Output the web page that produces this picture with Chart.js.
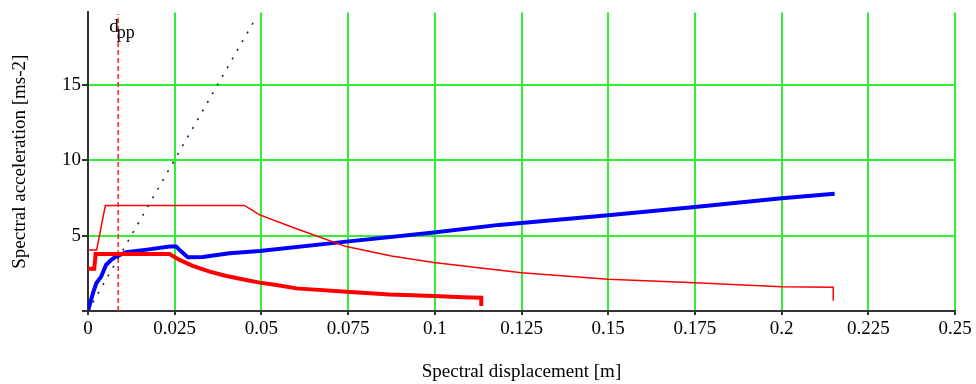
<!DOCTYPE html>
<html>
<head>
<meta charset="utf-8">
<script src="https://cdn.jsdelivr.net/npm/chart.js@4"></script>
<style>
    body { margin: 0; background: #fff; }
    #wrap { width: 976px; height: 384px; }
</style>
</head>
<body>
<div id="wrap"><canvas id="graph" width="976" height="384"></canvas></div>
<script>
// tick positions / labels
const xTicks = [0, 0.025, 0.05, 0.075, 0.1, 0.125, 0.15, 0.175, 0.2, 0.225, 0.25];
const xTickLabels = ['0', '0.025', '0.05', '0.075', '0.1', '0.125', '0.15', '0.175', '0.2', '0.225', '0.25'];
const yTicks = [0, 5, 10, 15];
const yTickLabels = ['', '5', '10', '15'];

// capacity curve (blue)
const capX = [0, 0.0014, 0.0024, 0.0038, 0.0052, 0.0067, 0.0081, 0.011, 0.017, 0.0235, 0.0254, 0.0269, 0.0288, 0.0331, 0.0408, 0.0495, 0.0745, 0.0997, 0.1185, 0.15, 0.175, 0.2, 0.2153];
const capY = [0, 1.17, 1.84, 2.28, 3.05, 3.39, 3.61, 3.9, 4.07, 4.27, 4.27, 3.94, 3.56, 3.58, 3.83, 3.98, 4.6, 5.2, 5.71, 6.35, 6.9, 7.48, 7.77];

// elastic demand spectrum (thin red)
const elasX = [0, 0.0025, 0.005, 0.0451, 0.0495, 0.0601, 0.0745, 0.0875, 0.0997, 0.125, 0.15, 0.175, 0.2, 0.2149, 0.2149];
const elasY = [4.05, 4.05, 7.0, 7.0, 6.37, 5.45, 4.27, 3.65, 3.21, 2.54, 2.1, 1.88, 1.61, 1.57, 0.68];

// inelastic demand spectrum (thick red)
const inelX = [0, 0.0018, 0.0022, 0.0235, 0.0264, 0.0302, 0.0351, 0.0399, 0.0456, 0.0495, 0.0543, 0.0601, 0.0745, 0.087, 0.0997, 0.1081, 0.1134, 0.1134];
const inelY = [2.8, 2.8, 3.78, 3.78, 3.39, 2.99, 2.61, 2.32, 2.06, 1.88, 1.73, 1.5, 1.28, 1.1, 0.99, 0.91, 0.88, 0.33];

// initial stiffness (dotted) and d_pp marker
const stiffX = [0, 0.0487];
const stiffY = [0, 19.55];
const dppX = [0.0087, 0.0087];
const dppY = [0, 19.7];

const fontFamily = "'Liberation Serif', 'Times New Roman', serif";

function toPoints(xs, ys) {
    return xs.map((x, i) => ({ x: x, y: ys[i] }));
}

// writes the "d" with its "pp" subscript next to the dashed line
const dppLabel = {
    id: 'dppLabel',
    afterDraw(chart) {
        const ctx = chart.ctx;
        const px = chart.scales.x.getPixelForValue(dppX[0]);
        ctx.save();
        ctx.fillStyle = '#000';
        ctx.textAlign = 'left';
        ctx.textBaseline = 'alphabetic';
        ctx.font = '19px ' + fontFamily;
        ctx.fillText('d', px - 9, 32);
        ctx.font = '18px ' + fontFamily;
        ctx.fillText('pp', px - 1.5, 38);
        ctx.restore();
    }
};

document.addEventListener('DOMContentLoaded', function() {
    const ctx = document.getElementById('graph').getContext('2d');

    window.myChart = new Chart(ctx, {
        type: 'scatter',
        data: {
            datasets: [
                {
                    label: 'stiffness',
                    data: toPoints(stiffX, stiffY),
                    borderColor: '#222',
                    borderWidth: 1.6,
                    borderDash: [2, 8]
                },
                {
                    label: 'elastic',
                    data: toPoints(elasX, elasY),
                    borderColor: '#ff0000',
                    borderWidth: 1.5
                },
                {
                    label: 'inelastic',
                    data: toPoints(inelX, inelY),
                    borderColor: '#ff0000',
                    borderWidth: 4
                },
                {
                    label: 'capacity',
                    data: toPoints(capX, capY),
                    borderColor: '#0000ff',
                    borderWidth: 4
                },
                {
                    label: 'dpp',
                    data: toPoints(dppX, dppY),
                    borderColor: '#ff2020',
                    borderWidth: 1.5,
                    borderDash: [5, 3]
                }
            ]
        },
        options: {
            responsive: false,
            animation: false,
            showLine: true,
            elements: {
                point: { radius: 0, hoverRadius: 0 },
                line: { tension: 0, fill: false }
            },
            layout: {
                padding: { top: 12, right: 21, left: 0, bottom: 0 }
            },
            plugins: {
                legend: { display: false },
                tooltip: { enabled: false }
            },
            scales: {
                x: {
                    type: 'linear',
                    min: 0,
                    max: 0.25,
                    afterFit: s => { s.height = 73; },
                    afterBuildTicks: s => { s.ticks = xTicks.map(v => ({ value: v })); },
                    ticks: {
                        color: '#000',
                        padding: 3,
                        maxRotation: 0,
                        autoSkip: false,
                        font: { family: fontFamily, size: 19 },
                        callback: (v, i) => xTickLabels[i]
                    },
                    grid: {
                        color: c => (c.tick && c.tick.value === 0) ? 'rgba(0,0,0,0)' : '#33ee33',
                        lineWidth: 2,
                        tickColor: '#333',
                        tickLength: 4
                    },
                    border: { color: '#333', width: 2 },
                    title: {
                        display: true,
                        text: 'Spectral displacement [m]',
                        color: '#000',
                        font: { family: fontFamily, size: 19 },
                        padding: { top: 0, bottom: 1 }
                    }
                },
                y: {
                    type: 'linear',
                    min: 0,
                    max: 19.8,
                    afterFit: s => { s.width = 88; },
                    afterBuildTicks: s => { s.ticks = yTicks.map(v => ({ value: v })); },
                    ticks: {
                        color: '#000',
                        padding: 1,
                        font: { family: fontFamily, size: 19 },
                        callback: (v, i) => yTickLabels[i]
                    },
                    grid: {
                        color: c => (c.tick && c.tick.value === 0) ? 'rgba(0,0,0,0)' : '#33ee33',
                        lineWidth: 2,
                        tickColor: '#333',
                        tickLength: 6
                    },
                    border: { color: '#333', width: 2 },
                    title: {
                        display: true,
                        text: 'Spectral acceleration [ms-2]',
                        color: '#000',
                        font: { family: fontFamily, size: 19 },
                        padding: { top: 9, bottom: 0 }
                    }
                }
            }
        },
        plugins: [dppLabel]
    });
});
</script>
</body>
</html>
